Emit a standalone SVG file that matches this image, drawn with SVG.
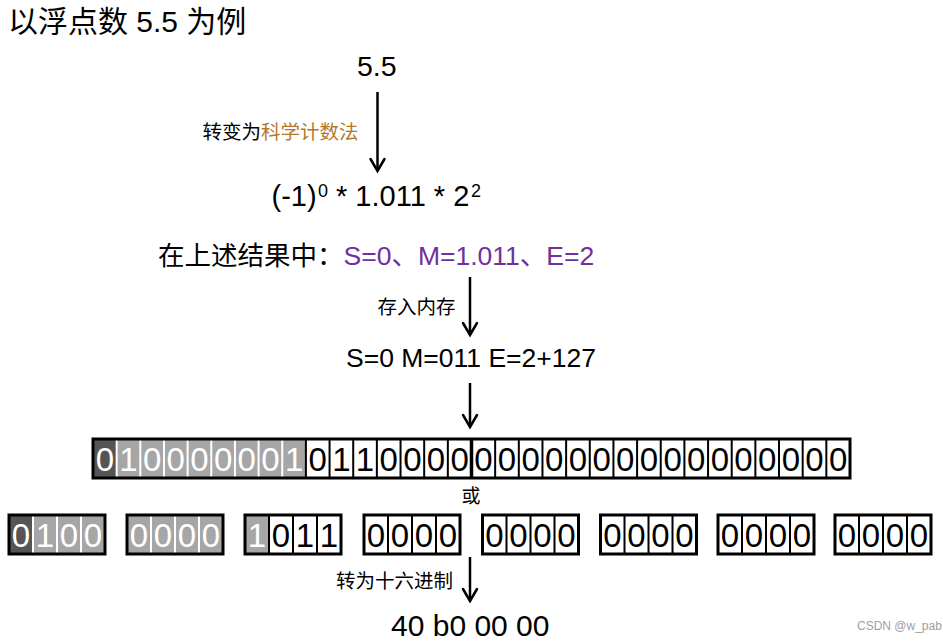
<svg xmlns="http://www.w3.org/2000/svg" width="943" height="642" viewBox="0 0 943 642">
<defs>
<style>
text{font-family:"Liberation Sans","Noto Sans CJK SC",sans-serif;fill:#000}
.t28{font-size:30px}
.lbl{font-size:19.5px}
.mid{font-size:26.5px}
.d{font-size:33px;text-anchor:middle}
.w{fill:#fff}
.dk{fill:#555}
.gr{fill:#a6a6a6}
.wh{fill:#fff}
.sepw{stroke:#fff;stroke-width:2}
.sepb{stroke:#000;stroke-width:2}
.frame{fill:none;stroke:#000;stroke-width:3}
.arr{stroke:#000;stroke-width:2.5;fill:none}
</style>
<marker id="ah" markerUnits="userSpaceOnUse" markerWidth="20" markerHeight="20" viewBox="-15 -10 17 20" refX="0" refY="0" orient="auto">
<path d="M-12,-7 L0,0 L-12,7" fill="none" stroke="#000" stroke-width="2.5" stroke-linecap="round" stroke-linejoin="miter"/>
</marker>
</defs>
<rect width="943" height="642" fill="#fff"/>

<g id="title"><text class="t28" x="8" y="32">以浮点数 5.5 为例</text></g>

<g id="n-value"><text x="376.7" y="76" font-size="28.5" text-anchor="middle">5.5</text></g>

<g id="n-sci">
<text x="271.5" y="206" font-size="29">(-1)</text>
<text x="318" y="197" font-size="18">0</text>
<text x="336" y="206" font-size="29">* 1.011 * 2</text>
<text x="471" y="197" font-size="18">2</text>
</g>

<g id="n-result"><text class="mid" x="158" y="265">在上述结果中：<tspan fill="#7030a0" style="fill:#7030a0">S=0、M=1.011、E=2</tspan></text></g>

<g id="n-store"><text class="mid" x="346" y="367">S=0 M=011 E=2+127</text></g>

<g id="n-bits">
<rect class="dk" x="93" y="439" width="23.66" height="39"/>
<rect class="gr" x="116.66" y="439" width="189.24" height="39"/>
<rect class="wh" x="305.9" y="439" width="544.1" height="39"/>
<g class="sepw">
<line x1="116.66" y1="439" x2="116.66" y2="478"/>
<line x1="140.31" y1="439" x2="140.31" y2="478"/>
<line x1="163.97" y1="439" x2="163.97" y2="478"/>
<line x1="187.62" y1="439" x2="187.62" y2="478"/>
<line x1="211.28" y1="439" x2="211.28" y2="478"/>
<line x1="234.94" y1="439" x2="234.94" y2="478"/>
<line x1="258.59" y1="439" x2="258.59" y2="478"/>
<line x1="282.25" y1="439" x2="282.25" y2="478"/>
</g>
<g class="sepb">
<line x1="305.9" y1="439" x2="305.9" y2="478"/>
<line x1="329.56" y1="439" x2="329.56" y2="478"/>
<line x1="353.22" y1="439" x2="353.22" y2="478"/>
<line x1="376.87" y1="439" x2="376.87" y2="478"/>
<line x1="400.53" y1="439" x2="400.53" y2="478"/>
<line x1="424.18" y1="439" x2="424.18" y2="478"/>
<line x1="447.84" y1="439" x2="447.84" y2="478"/>
<line x1="471.5" y1="439" x2="471.5" y2="478" stroke-width="3.5"/>
<line x1="495.15" y1="439" x2="495.15" y2="478"/>
<line x1="518.81" y1="439" x2="518.81" y2="478"/>
<line x1="542.46" y1="439" x2="542.46" y2="478"/>
<line x1="566.12" y1="439" x2="566.12" y2="478"/>
<line x1="589.78" y1="439" x2="589.78" y2="478"/>
<line x1="613.43" y1="439" x2="613.43" y2="478"/>
<line x1="637.09" y1="439" x2="637.09" y2="478"/>
<line x1="660.74" y1="439" x2="660.74" y2="478"/>
<line x1="684.4" y1="439" x2="684.4" y2="478"/>
<line x1="708.06" y1="439" x2="708.06" y2="478"/>
<line x1="731.71" y1="439" x2="731.71" y2="478"/>
<line x1="755.37" y1="439" x2="755.37" y2="478"/>
<line x1="779.02" y1="439" x2="779.02" y2="478"/>
<line x1="802.68" y1="439" x2="802.68" y2="478"/>
<line x1="826.34" y1="439" x2="826.34" y2="478"/>
</g>
<rect class="frame" x="93" y="439" width="757" height="39"/>
<g class="d">
<text class="w" x="104.83" y="471">0</text>
<text class="w" x="128.49" y="471">1</text>
<text class="w" x="152.14" y="471">0</text>
<text class="w" x="175.8" y="471">0</text>
<text class="w" x="199.45" y="471">0</text>
<text class="w" x="223.11" y="471">0</text>
<text class="w" x="246.77" y="471">0</text>
<text class="w" x="270.42" y="471">0</text>
<text class="w" x="294.08" y="471">1</text>
<text x="317.73" y="471">0</text>
<text x="341.39" y="471">1</text>
<text x="365.05" y="471">1</text>
<text x="388.7" y="471">0</text>
<text x="412.36" y="471">0</text>
<text x="436.01" y="471">0</text>
<text x="459.67" y="471">0</text>
<text x="483.33" y="471">0</text>
<text x="506.98" y="471">0</text>
<text x="530.64" y="471">0</text>
<text x="554.29" y="471">0</text>
<text x="577.95" y="471">0</text>
<text x="601.61" y="471">0</text>
<text x="625.26" y="471">0</text>
<text x="648.92" y="471">0</text>
<text x="672.57" y="471">0</text>
<text x="696.23" y="471">0</text>
<text x="719.89" y="471">0</text>
<text x="743.54" y="471">0</text>
<text x="767.2" y="471">0</text>
<text x="790.85" y="471">0</text>
<text x="814.51" y="471">0</text>
<text x="838.17" y="471">0</text>
</g>
</g>

<g id="n-or"><text x="471" y="503" font-size="19" text-anchor="middle">或</text></g>

<g id="n-nib1">
<rect class="dk" x="9" y="515" width="24" height="39"/>
<rect class="gr" x="33" y="515" width="72" height="39"/>
<g class="sepw"><line x1="33" y1="515" x2="33" y2="554"/><line x1="57" y1="515" x2="57" y2="554"/><line x1="81" y1="515" x2="81" y2="554"/></g>
<rect class="frame" x="9" y="515" width="96" height="39" stroke-width="2.5"/>
<g class="d"><text class="w" x="21" y="547">0</text><text class="w" x="45" y="547">1</text><text class="w" x="69" y="547">0</text><text class="w" x="93" y="547">0</text></g>
</g>

<g id="n-nib2">
<rect class="gr" x="127" y="515" width="96" height="39"/>
<g class="sepw"><line x1="151" y1="515" x2="151" y2="554"/><line x1="175" y1="515" x2="175" y2="554"/><line x1="199" y1="515" x2="199" y2="554"/></g>
<rect class="frame" x="127" y="515" width="96" height="39" stroke-width="2.5"/>
<g class="d"><text class="w" x="139" y="547">0</text><text class="w" x="163" y="547">0</text><text class="w" x="187" y="547">0</text><text class="w" x="211" y="547">0</text></g>
</g>

<g id="n-nib3">
<rect class="gr" x="245" y="515" width="24" height="39"/>
<rect class="wh" x="269" y="515" width="72" height="39"/>
<g class="sepb"><line x1="269" y1="515" x2="269" y2="554"/><line x1="293" y1="515" x2="293" y2="554"/><line x1="317" y1="515" x2="317" y2="554"/></g>
<rect class="frame" x="245" y="515" width="96" height="39" stroke-width="2.5"/>
<g class="d"><text class="w" x="257" y="547">1</text><text x="281" y="547">0</text><text x="305" y="547">1</text><text x="329" y="547">1</text></g>
</g>

<g id="n-nib4">
<rect class="wh" x="364" y="515" width="96" height="39"/>
<g class="sepb"><line x1="388" y1="515" x2="388" y2="554"/><line x1="412" y1="515" x2="412" y2="554"/><line x1="436" y1="515" x2="436" y2="554"/></g>
<rect class="frame" x="364" y="515" width="96" height="39" stroke-width="2.5"/>
<g class="d"><text x="376" y="547">0</text><text x="400" y="547">0</text><text x="424" y="547">0</text><text x="448" y="547">0</text></g>
</g>

<g id="n-nib5">
<rect class="wh" x="482.5" y="515" width="96" height="39"/>
<g class="sepb"><line x1="506.5" y1="515" x2="506.5" y2="554"/><line x1="530.5" y1="515" x2="530.5" y2="554"/><line x1="554.5" y1="515" x2="554.5" y2="554"/></g>
<rect class="frame" x="482.5" y="515" width="96" height="39" stroke-width="2.5"/>
<g class="d"><text x="494.5" y="547">0</text><text x="518.5" y="547">0</text><text x="542.5" y="547">0</text><text x="566.5" y="547">0</text></g>
</g>

<g id="n-nib6">
<rect class="wh" x="600.5" y="515" width="96" height="39"/>
<g class="sepb"><line x1="624.5" y1="515" x2="624.5" y2="554"/><line x1="648.5" y1="515" x2="648.5" y2="554"/><line x1="672.5" y1="515" x2="672.5" y2="554"/></g>
<rect class="frame" x="600.5" y="515" width="96" height="39" stroke-width="2.5"/>
<g class="d"><text x="612.5" y="547">0</text><text x="636.5" y="547">0</text><text x="660.5" y="547">0</text><text x="684.5" y="547">0</text></g>
</g>

<g id="n-nib7">
<rect class="wh" x="718" y="515" width="96" height="39"/>
<g class="sepb"><line x1="742" y1="515" x2="742" y2="554"/><line x1="766" y1="515" x2="766" y2="554"/><line x1="790" y1="515" x2="790" y2="554"/></g>
<rect class="frame" x="718" y="515" width="96" height="39" stroke-width="2.5"/>
<g class="d"><text x="730" y="547">0</text><text x="754" y="547">0</text><text x="778" y="547">0</text><text x="802" y="547">0</text></g>
</g>

<g id="n-nib8">
<rect class="wh" x="835" y="515" width="96" height="39"/>
<g class="sepb"><line x1="859" y1="515" x2="859" y2="554"/><line x1="883" y1="515" x2="883" y2="554"/><line x1="907" y1="515" x2="907" y2="554"/></g>
<rect class="frame" x="835" y="515" width="96" height="39" stroke-width="2.5"/>
<g class="d"><text x="847" y="547">0</text><text x="871" y="547">0</text><text x="895" y="547">0</text><text x="919" y="547">0</text></g>
</g>

<g id="n-hex"><text x="391" y="636" font-size="30">40 b0 00 00</text></g>

<g id="watermark"><text x="857" y="630" font-size="12" style="fill:#a0a0a0">CSDN @w_pab</text></g>

<g id="connectors">
<line class="arr" x1="377.5" y1="92" x2="377.5" y2="171" marker-end="url(#ah)"/>
<text class="lbl" x="202.5" y="139">转变为<tspan style="fill:#b5782a">科学计数法</tspan></text>
<line class="arr" x1="470" y1="277" x2="470" y2="335" marker-end="url(#ah)"/>
<text class="lbl" x="377.5" y="314">存入内存</text>
<line class="arr" x1="470" y1="383" x2="470" y2="427" marker-end="url(#ah)"/>
<line class="arr" x1="470" y1="557" x2="470" y2="601" marker-end="url(#ah)"/>
<text class="lbl" x="336" y="588">转为十六进制</text>
</g>
</svg>
